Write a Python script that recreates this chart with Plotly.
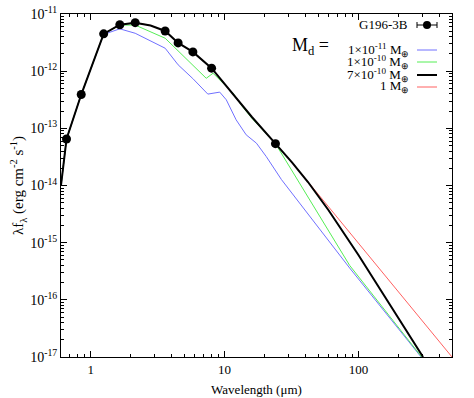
import plotly.graph_objects as go

# photometry of G196-3B (wavelength in micron, lambda*F_lambda in erg/cm2/s)
obs_wl = [0.66, 0.85, 1.25, 1.65, 2.15, 3.6, 4.5, 5.8, 8.0, 24.0]
obs_flux = [6.5e-14, 3.9e-13, 4.5e-12, 6.5e-12, 7.05e-12, 5.05e-12, 3.12e-12, 2.17e-12, 1.13e-12, 5.4e-14]

# disk models, M_d = 1e-11, 1e-10, 7e-10 and 1 M_earth
wl_1e11 = [0.6, 0.66, 0.85, 1.25, 1.65, 2.15, 3.6, 4.5, 5.8, 7.5, 9.2, 10.3, 12.2, 14.5, 17.3, 20.5, 26.6, 86, 294]
f_1e11 = [1.0e-14, 6.5e-14, 3.9e-13, 4.4e-12, 5.5e-12, 4.6e-12, 2.52e-12, 1.29e-12, 7.4e-13, 3.97e-13,
          4.3e-13, 3.16e-13, 1.41e-13, 7.7e-14, 5.5e-14, 3.2e-14, 1.27e-14, 3.6e-16, 1.0e-17]

wl_1e10 = [0.6, 0.66, 0.85, 1.25, 1.65, 2.15, 3.6, 5.8, 7.3, 8.2, 11.5, 13.6, 16, 24, 42, 86, 297]
f_1e10 = [1.0e-14, 6.5e-14, 3.9e-13, 4.5e-12, 6.4e-12, 6.4e-12, 3.77e-12, 1.3e-12, 7.5e-13, 9.2e-13,
          4.2e-13, 2.4e-13, 1.5e-13, 5.4e-14, 6.2e-15, 4.0e-16, 1.0e-17]

wl_7e10 = [0.6, 0.66, 0.85, 1.25, 1.65, 2.15, 2.8, 3.6, 4.5, 5.8, 8.0, 12, 16, 24, 32, 42, 60, 100, 304]
f_7e10 = [1.0e-14, 6.5e-14, 3.9e-13, 4.5e-12, 6.5e-12, 7.05e-12, 6.3e-12, 5.05e-12, 3.12e-12, 2.17e-12,
          1.13e-12, 3.5e-13, 1.58e-13, 5.4e-14, 2.52e-14, 1.15e-14, 3.66e-15, 6.1e-16, 1.0e-17]

wl_1me = [0.6, 0.66, 0.85, 1.25, 1.65, 2.15, 2.8, 3.6, 4.5, 5.8, 8.0, 12, 16, 24, 32, 500]
f_1me = [1.0e-14, 6.5e-14, 3.9e-13, 4.5e-12, 6.5e-12, 7.05e-12, 6.3e-12, 5.05e-12, 3.12e-12, 2.17e-12,
         1.13e-12, 3.5e-13, 1.58e-13, 5.4e-14, 2.52e-14, 1.0e-17]

x_ticks = [1, 10, 100]
y_ticks = [1e-17, 1e-16, 1e-15, 1e-14, 1e-13, 1e-12, 1e-11]
y_ticktext = ["10<sup>-17</sup>", "10<sup>-16</sup>", "10<sup>-15</sup>", "10<sup>-14</sup>",
              "10<sup>-13</sup>", "10<sup>-12</sup>", "10<sup>-11</sup>"]

model_labels = ["1×10<sup>-11</sup> M<sub>⊕</sub>", "1×10<sup>-10</sup> M<sub>⊕</sub>",
                "7×10<sup>-10</sup> M<sub>⊕</sub>", "1 M<sub>⊕</sub>"]
model_colors = ["#7070ff", "#55ee55", "black", "#ff6060"]

BLUE, GREEN, BLACK, RED = model_colors
FONT = "Liberation Serif"

fig = go.Figure()
fig.add_trace(go.Scatter(x=wl_1me, y=f_1me, mode="lines", line=dict(color=RED, width=1)))
fig.add_trace(go.Scatter(x=wl_1e11, y=f_1e11, mode="lines", line=dict(color=BLUE, width=1)))
fig.add_trace(go.Scatter(x=wl_1e10, y=f_1e10, mode="lines", line=dict(color=GREEN, width=1)))
fig.add_trace(go.Scatter(x=wl_7e10, y=f_7e10, mode="lines", line=dict(color=BLACK, width=2)))
fig.add_trace(go.Scatter(x=obs_wl, y=obs_flux, mode="markers",
                         marker=dict(color="black", size=9)))

# minor ticks at 2..9 of each decade
x_minor = [m * 10 ** e for e in range(-1, 3) for m in range(2, 10) if 0.6 <= m * 10 ** e <= 500]
y_minor = [m * 10 ** e for e in range(-17, -11) for m in range(2, 10)]

axis_common = dict(type="log", showgrid=False, zeroline=False, showline=True, linecolor="black",
                   linewidth=1, mirror="allticks", ticks="inside", ticklen=6, tickcolor="black",
                   automargin=False)

fig.update_xaxes(**axis_common, range=[-0.2218, 2.699], tickvals=x_ticks, ticktext=["1", "10", "100"],
                 tickfont=dict(family=FONT, size=13, color="black"),
                 minor=dict(tickmode="array", tickvals=x_minor, ticks="inside", ticklen=3,
                            tickcolor="black", showgrid=False),
                 title=dict(text="Wavelength (μm)", font=dict(family=FONT, size=13, color="black"),
                            standoff=9))
fig.update_yaxes(**axis_common, range=[-17, -11], tickvals=y_ticks, ticktext=y_ticktext,
                 tickfont=dict(family=FONT, size=14, color="black"),
                 minor=dict(tickmode="array", tickvals=y_minor, ticks="inside", ticklen=3,
                            tickcolor="black", showgrid=False),
                 title=dict(text="λf<sub>λ</sub> (erg cm<sup>-2</sup> s<sup>-1</sup>)",
                            font=dict(family=FONT, size=15, color="black"), standoff=2))

# key, drawn in paper coordinates
def px_x(p):
    return (p - 61) / 391.0


def px_y(p):
    return (357 - p) / 343.0


txt_font = dict(family=FONT, size=13, color="black")
fig.add_annotation(x=px_x(410), y=px_y(25), xref="paper", yref="paper", text="G196-3B",
                   showarrow=False, xanchor="right", yanchor="middle", font=txt_font)
fig.add_shape(type="line", xref="paper", yref="paper", x0=px_x(417), x1=px_x(437),
              y0=px_y(25), y1=px_y(25), line=dict(color="black", width=1))
for xe in (417, 437):
    fig.add_shape(type="line", xref="paper", yref="paper", x0=px_x(xe), x1=px_x(xe),
                  y0=px_y(22), y1=px_y(28), line=dict(color="black", width=1))
fig.add_shape(type="circle", xref="paper", yref="paper", x0=px_x(423), x1=px_x(431),
              y0=px_y(21), y1=px_y(29), fillcolor="black", line=dict(color="black", width=0))

fig.add_annotation(x=px_x(310), y=px_y(46), xref="paper", yref="paper", text="M<sub>d</sub> =",
                   showarrow=False, xanchor="center", yanchor="middle",
                   font=dict(family=FONT, size=18, color="black"))

for i, (lab, col) in enumerate(zip(model_labels, model_colors)):
    yy = [50, 62, 75, 87][i]
    fig.add_annotation(x=px_x(411), y=px_y(yy), xref="paper", yref="paper", text=lab,
                       showarrow=False, xanchor="right", yanchor="middle", font=txt_font)
    fig.add_shape(type="line", xref="paper", yref="paper", x0=px_x(417), x1=px_x(437),
                  y0=px_y(yy), y1=px_y(yy), line=dict(color=col, width=2 if col == "black" else 1))

fig.update_layout(width=474, height=398, margin=dict(l=61, r=22, t=14, b=41, autoexpand=False),
                  plot_bgcolor="white", paper_bgcolor="white", showlegend=False,
                  font=dict(family=FONT, color="black"))

fig.write_html("out.html", config={"displayModeBar": False},
               post_script="document.body.style.margin='0';")
